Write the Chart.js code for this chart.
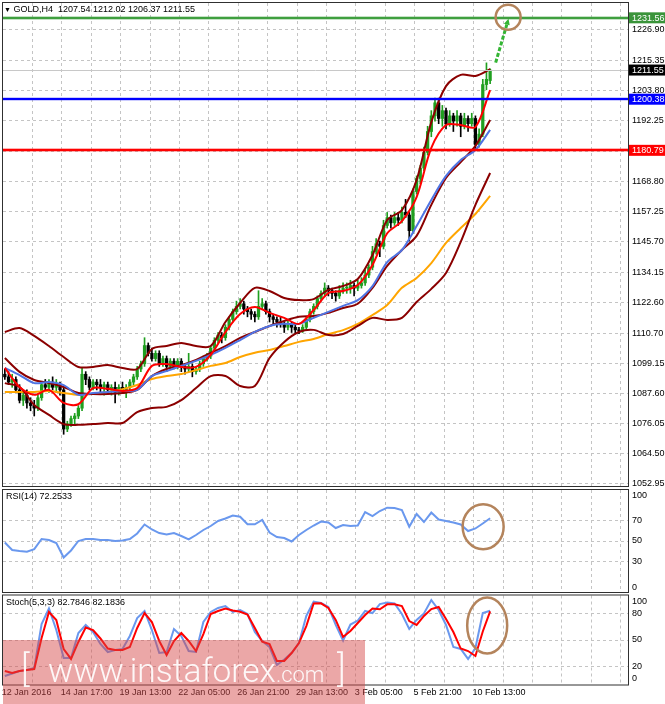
<!DOCTYPE html>
<html lang="en">
  <head>
    <meta charset="UTF-8" />
    <title>GOLD H4</title>
    <script src="https://cdn.jsdelivr.net/npm/chart.js"></script>
    <style>
      body { margin: 0; background: #fff; }
      #wrap { position: relative; width: 665px; height: 704px; overflow: hidden; font-family: "Liberation Sans", Arial, sans-serif; }
      canvas { position: absolute; left: 0; }
      .caption { position: absolute; font-size: 9px; line-height: 11px; color: #000; white-space: pre; }
      .mark { position: absolute; left: 3px; top: 640px; width: 362px; height: 64px; background: rgba(214, 72, 72, 0.48); }
      .mark span { position: absolute; color: rgba(255, 255, 255, 0.92); font-family: "Roboto Light", "Open Sans Light", "Lato Light", Roboto, sans-serif; font-weight: 300; line-height: 1; white-space: pre; }
    </style>
  </head>
  <body>
    <div id="wrap">
      <canvas id="main" width="665" height="489" style="top:0"></canvas>
      <canvas id="rsi" width="665" height="104" style="top:489px"></canvas>
      <canvas id="stoch" width="665" height="110" style="top:594px"></canvas>
      <div class="caption" style="left:4px;top:4px"><span style="font-size:7px">▼</span> GOLD,H4  1207.54 1212.02 1206.37 1211.55</div>
      <div class="caption" style="left:6px;top:491px">RSI(14) 72.2533</div>
      <div class="caption" style="left:6px;top:597px">Stoch(5,3,3) 82.7846 82.1836</div>
      <div class="mark">
        <span style="left:18px;top:11.4px;font-size:36px">[</span>
        <span style="left:45px;top:13.5px;font-size:33.5px">www.instaforex<span style="position:static;font-size:22px">.com</span></span>
        <span style="left:334px;top:11.4px;font-size:36px">]</span>
      </div>
    </div>

    <script>
      // H4 candles, 12 Jan - 11 Feb 2016
      const opens = [
        1095, 1094, 1092, 1093, 1089, 1085, 1087, 1084, 1083, 1082,
        1086, 1091, 1090, 1092, 1090, 1091, 1089, 1074, 1076, 1078,
        1079, 1082, 1095, 1093, 1090, 1092, 1091, 1090, 1091, 1089,
        1090, 1088, 1090, 1089, 1090, 1092, 1094, 1097, 1099, 1106,
        1103, 1101, 1103, 1099, 1101, 1098, 1100, 1098, 1100, 1098,
        1097, 1098, 1096, 1097, 1099, 1101, 1102, 1105, 1108, 1110,
        1109, 1113, 1116, 1119, 1121, 1122, 1120, 1119, 1118, 1117,
        1121, 1122, 1119, 1117, 1116, 1115, 1114, 1113, 1114, 1113,
        1112, 1111.5, 1113, 1116, 1119, 1121, 1124, 1126, 1128, 1127,
        1126, 1125, 1127, 1128, 1128, 1129, 1128, 1129, 1130, 1133,
        1136, 1142, 1145, 1144, 1152, 1155, 1153, 1155, 1154, 1157,
        1156, 1150, 1165, 1170, 1174, 1180, 1188, 1194, 1199, 1193,
        1196, 1191, 1194, 1192, 1194, 1190, 1193, 1191, 1193, 1183,
        1187, 1206, 1207.54,
      ];
      const highs = [
        1097, 1096, 1095, 1094, 1091, 1088, 1089, 1086, 1085, 1087,
        1092, 1093, 1093, 1094, 1093, 1092, 1090, 1077, 1079, 1080,
        1083, 1097.5, 1096, 1094, 1093, 1093, 1093, 1092, 1092, 1091,
        1092, 1091, 1092, 1091, 1093, 1095, 1098, 1100, 1109, 1107,
        1105, 1104, 1104, 1102, 1102, 1101, 1101, 1101, 1101, 1099,
        1103, 1099, 1098, 1100, 1102, 1103, 1106, 1109, 1111, 1111,
        1114, 1117, 1120, 1123, 1124, 1123, 1121, 1120, 1119, 1127,
        1124, 1123, 1120, 1118, 1117, 1117, 1115, 1116, 1115, 1114,
        1113, 1114, 1117, 1120, 1122, 1125, 1127, 1130, 1129, 1128,
        1127, 1129, 1130, 1130, 1131, 1130, 1131, 1132, 1135, 1137,
        1144, 1147, 1146, 1154, 1157, 1156, 1157, 1157, 1159, 1162,
        1157, 1166, 1171, 1175, 1182, 1190, 1196, 1200.8, 1200.8, 1198,
        1197, 1196, 1195, 1196, 1195, 1195, 1194, 1195, 1194, 1189,
        1208, 1214.3, 1212.02,
      ];
      const lows = [
        1093, 1091, 1090, 1088, 1084, 1083, 1082, 1081, 1079, 1081,
        1085, 1089, 1088, 1089, 1088, 1087, 1072, 1073, 1075, 1076,
        1078, 1081, 1091, 1089, 1089, 1089, 1088, 1087, 1088, 1087,
        1084, 1087, 1088, 1086, 1089, 1091, 1093, 1096, 1098, 1102,
        1100, 1100, 1098, 1098, 1096, 1097, 1097, 1097, 1096, 1095,
        1096, 1094, 1095, 1096, 1098, 1100, 1101, 1104, 1107, 1107,
        1108, 1112, 1115, 1118, 1120, 1118, 1117, 1116, 1115, 1116,
        1120, 1118, 1115, 1114, 1113, 1113, 1111, 1112, 1111, 1110.5,
        1110.5, 1111, 1112, 1115, 1118, 1120, 1123, 1125, 1125, 1124,
        1123, 1124, 1126, 1126, 1126, 1125, 1127, 1128, 1129, 1132,
        1135, 1141, 1140, 1143, 1151, 1151, 1152, 1152, 1153, 1155,
        1146, 1149, 1164, 1168, 1173, 1179, 1186, 1192, 1191, 1190,
        1189, 1190, 1188, 1190, 1186, 1189, 1188, 1190, 1181, 1182,
        1186, 1204, 1206.37,
      ];
      const closes = [
        1094, 1092, 1093, 1089, 1085, 1087, 1084, 1083, 1082, 1086,
        1091, 1090, 1092, 1090, 1091, 1089, 1074, 1076, 1078, 1079,
        1082, 1095, 1093, 1090, 1092, 1091, 1090, 1091, 1089, 1090,
        1088, 1090, 1089, 1090, 1092, 1094, 1097, 1099, 1106, 1103,
        1101, 1103, 1099, 1101, 1098, 1100, 1098, 1100, 1098, 1097,
        1098, 1096, 1097, 1099, 1101, 1102, 1105, 1108, 1110, 1109,
        1113, 1116, 1119, 1121, 1122, 1120, 1119, 1118, 1117, 1121,
        1122, 1119, 1117, 1116, 1115, 1114, 1113, 1114, 1113, 1112,
        1111.5, 1113, 1116, 1119, 1121, 1124, 1126, 1128, 1127, 1126,
        1125, 1127, 1128, 1128, 1129, 1128, 1129, 1130, 1133, 1136,
        1142, 1145, 1144, 1152, 1155, 1153, 1155, 1154, 1157, 1156,
        1150, 1165, 1170, 1174, 1180, 1188, 1194, 1199, 1193, 1196,
        1191, 1194, 1192, 1194, 1190, 1193, 1191, 1193, 1183, 1187,
        1206, 1208, 1211.55,
      ];

      // indicator lines, read every 4th bar (bars 0, 4, ... 132)
      const lineBars = Array.from({ length: 34 }, (_, k) => k * 4);
      const bbUpper = [
        1111.2, 1112.7, 1109.7, 1105.8, 1101.6, 1097.8, 1097.8, 1098.5, 1097.4, 1097.0,
        1104.7, 1105.8, 1107.0, 1105.8, 1105.8, 1115.0, 1122.3, 1128.1, 1126.9, 1124.2,
        1123.4, 1123.8, 1127.3, 1128.8, 1131.5, 1140.7, 1154.1, 1157.9, 1169.4, 1191.6,
        1205.4, 1209.7, 1209.3, 1211.9,
      ];
      const bbMiddle = [
        1101.2, 1095.9, 1092.8, 1091.6, 1090.1, 1087.8, 1087.4, 1087.4, 1087.8, 1089.0,
        1094.3, 1097.0, 1098.5, 1100.5, 1103.2, 1105.8, 1108.9, 1111.2, 1113.5, 1115.4,
        1117.0, 1117.3, 1118.5, 1120.4, 1122.0, 1128.1, 1136.5, 1142.6, 1148.0, 1159.9,
        1170.2, 1176.3, 1182.5, 1192.4,
      ];
      const bbLower = [
        1091.6, 1090.1, 1083.2, 1079.4, 1075.9, 1075.6, 1075.9, 1076.3, 1076.3, 1080.5,
        1082.1, 1082.5, 1085.1, 1089.7, 1094.3, 1094.3, 1090.5, 1090.5, 1101.2, 1107.4,
        1111.2, 1112.0, 1110.0, 1110.4, 1113.5, 1116.6, 1115.8, 1116.6, 1122.7, 1127.7,
        1133.8, 1145.7, 1159.9, 1172.1,
      ];
      const maFast = [
        1097.4, 1090.1, 1087.1, 1089.0, 1084.0, 1083.5, 1089.7, 1089.4, 1088.6, 1089.7,
        1098.2, 1098.9, 1097.8, 1097.8, 1102.4, 1111.2, 1118.1, 1120.8, 1118.5, 1116.6,
        1114.3, 1119.6, 1126.1, 1126.9, 1129.2, 1136.9, 1149.0, 1153.7, 1162.9, 1181.7,
        1190.5, 1190.5, 1189.7, 1203.9,
      ];
      const maMid = [
        1097.4, 1094.7, 1091.6, 1092.0, 1090.8, 1087.1, 1087.8, 1088.2, 1088.6, 1089.0,
        1094.3, 1096.2, 1098.2, 1100.1, 1102.4, 1105.1, 1108.1, 1111.2, 1113.5, 1114.3,
        1114.3, 1116.6, 1118.9, 1121.2, 1123.4, 1128.8, 1138.0, 1142.6, 1151.8, 1161.8,
        1171.0, 1177.1, 1180.9, 1188.6,
      ];
      const maSlow = [
        1088.2, 1088.2, 1088.2, 1088.6, 1087.8, 1087.1, 1087.4, 1088.2, 1089.3, 1090.9,
        1093.2, 1094.3, 1095.1, 1096.6, 1098.2, 1099.3, 1101.6, 1103.2, 1104.3, 1105.8,
        1107.4, 1108.5, 1110.4, 1111.9, 1114.3, 1117.7, 1121.5, 1128.1, 1131.9, 1137.6,
        1145.3, 1151.0, 1156.4, 1163.3,
      ];

      // oscillators, read every 2nd bar (bars 0, 2, ... 132)
      const oscBars = Array.from({ length: 67 }, (_, k) => k * 2);
      const rsi = [
        48.5, 41.2, 40.2, 39.5, 42, 52, 51, 48, 33.8, 40.7,
        50, 52, 52, 51, 51, 50, 50.5, 52, 57.4, 66.2,
        61.3, 57.8, 56.4, 57.8, 54.9, 51.5, 55.9, 60.8, 64.7, 69.6,
        72.1, 75, 73.8, 66.4, 66.4, 70.6, 58.3, 53.9, 52.9, 49.5,
        55.9, 60.8, 65.2, 69.1, 68.1, 62.7, 65.7, 64.7, 65.2, 78.4,
        74.5, 79.4, 82.7, 82.4, 80.4, 64, 76.5, 68.6, 77.9, 71.1,
        69.6, 68.1, 66.2, 59.8, 62.3, 67.2, 72.25,
      ];
      const stochK = [
        9.6, 12.4, 15.2, 16.3, 18.5, 68, 85.4, 61.2, 29.8, 29.8,
        57.9, 66.9, 59, 45.5, 36.5, 38.8, 39.9, 54.5, 74.7, 82.6,
        61.2, 35.4, 36.5, 62.4, 54.5, 37.6, 36.5, 70.2, 81.5, 86,
        88.2, 81.5, 83.7, 79.2, 59, 48.9, 42.1, 21.9, 28.1, 35.4,
        46.6, 77, 93, 91.6, 87.1, 66.9, 49.4, 67.4, 71.9, 82.6,
        80.3, 90.4, 92.1, 91, 79.2, 62.4, 72.5, 79.8, 94.9, 83.7,
        66.9, 42.1, 39.9, 28.7, 41, 80.3, 82.78,
      ];
      const stochD = [
        15.2, 12.9, 15.2, 16.3, 17.4, 52.2, 81.5, 72.5, 39.9, 28.7,
        47.8, 64, 61.2, 51.7, 40.4, 38.8, 38.8, 42.1, 63.5, 80.3,
        70.2, 48.9, 33.1, 48.9, 57.9, 48.9, 37.6, 56.7, 79.2, 82.6,
        85.4, 83.1, 81.8, 78.7, 63.5, 48.1, 45.5, 26.4, 26.4, 35.4,
        46.6, 65.7, 91, 91.2, 86, 72.5, 53.4, 60.1, 69.1, 78.1,
        85.4, 84.5, 90.1, 90.1, 88.2, 71.3, 66.9, 77, 84.8, 87.1,
        73.6, 59, 40.4, 37.6, 32, 59.6, 82.18,
      ];

      // axes
      const slotLabels = Array.from({ length: 170 }, (_, i) => i);
      const xTickBars = [0, 16, 32, 48, 64, 80, 96, 112, 128];
      const xTickText = [
        "12 Jan 2016", "14 Jan 17:00", "19 Jan 13:00", "22 Jan 05:00", "26 Jan 21:00",
        "29 Jan 13:00", "3 Feb 05:00", "5 Feb 21:00", "10 Feb 13:00",
      ];
      const priceTicks = [
        1052.95, 1064.5, 1076.05, 1087.6, 1099.15, 1110.7, 1122.6, 1134.15,
        1145.7, 1157.25, 1168.8, 1180.35, 1192.25, 1203.8, 1215.35, 1226.9,
      ];
      const rsiTicks = [0, 30, 50, 70, 100];
      const stochTicks = [0, 20, 50, 80, 100];

      // horizontal levels: target, last price, resistance, support
      const levelValues = [1231.56, 1211.55, 1200.38, 1180.79];

      // drawn marks, in bar index / value units
      const arrowFrom = [133.5, 1214.4];
      const arrowTo = [137.0, 1231.2];
      const mainRing = [136.9, 1231.8];
      const rsiRing = [130.1, 64];
      const stochRing = [131.2, 66.3];

      const GRID = "#c4c4c4";
      const RING = "#b4845c";
      const levelStyles = [
        { line: "#3f9f3f", halo: "rgba(63,159,63,0.3)", width: 2, tag: "#3a943a" },
        { line: "#c8c8c8", width: 1, tag: "#000000" },
        { line: "#0000ff", halo: "rgba(0,0,255,0.2)", width: 2, tag: "#0000ff" },
        { line: "#ff0000", halo: "rgba(255,0,0,0.3)", width: 2, tag: "#ff0000" },
      ];

      Chart.defaults.font.family = '"Liberation Sans", Arial, sans-serif';
      Chart.defaults.font.size = 9;
      Chart.defaults.color = "#000";

      const toPoints = (bars, vals) => bars.map((b, k) => ({ x: b, y: vals[k] }));

      function xAxis(showLabels) {
        return {
          type: "category",
          offset: true,
          grid: {
            offset: true,
            drawTicks: false,
            color: (c) => (c.index > 0 && c.index % 8 === 0 ? GRID : "transparent"),
          },
          border: { display: false, dash: [3, 3] },
          ticks: {
            display: showLabels,
            autoSkip: false,
            maxRotation: 0,
            align: "start",
            labelOffset: -3,
            padding: 3,
            callback: (v, i) => {
              const k = xTickBars.indexOf(i);
              return k < 0 ? "" : xTickText[k];
            },
          },
          afterFit: (s) => {
            s.height = showLabels ? 19.5 : 0;
            s.paddingLeft = 0;
            s.paddingRight = 0;
          },
        };
      }

      function yAxis(min, max, values, labelFor, gridFor) {
        return {
          position: "right",
          min: min,
          max: max,
          afterBuildTicks: (s) => {
            s.ticks = values.map((v) => ({ value: v }));
          },
          afterFit: (s) => {
            s.width = 37;
            s.paddingTop = 0;
            s.paddingBottom = 0;
          },
          grid: {
            drawTicks: false,
            color: (c) => (c.tick && gridFor(c.tick.value) ? GRID : "transparent"),
          },
          border: { display: false, dash: [3, 3] },
          ticks: { padding: 4, callback: labelFor },
        };
      }

      function options(padding, showX, y, extra) {
        return {
          responsive: false,
          animation: false,
          events: [],
          layout: { padding: padding },
          plugins: Object.assign({ legend: { display: false }, tooltip: { enabled: false } }, extra),
          scales: { x: xAxis(showX), y: y },
        };
      }

      function lineSet(label, bars, vals, color, width, order, tension) {
        return {
          type: "line",
          label: label,
          data: toPoints(bars, vals),
          borderColor: color,
          borderWidth: width,
          pointRadius: 0,
          tension: tension,
          order: order,
        };
      }

      function ring(ctx, px, py, rx, ry) {
        ctx.save();
        ctx.strokeStyle = RING;
        ctx.lineWidth = 2.5;
        ctx.beginPath();
        ctx.ellipse(px, py, rx, ry, 0, 0, Math.PI * 2);
        ctx.stroke();
        ctx.restore();
      }

      const frame = {
        id: "frame",
        afterDraw(chart) {
          const { ctx, chartArea: a } = chart;
          ctx.save();
          ctx.strokeStyle = "#303030";
          ctx.lineWidth = 1;
          ctx.strokeRect(a.left - 0.5, a.top - 0.5, a.right - a.left + 1, a.bottom - a.top + 1);
          ctx.restore();
        },
      };

      const edgeLabels = {
        id: "edgeLabels",
        afterDraw(chart, args, opts) {
          const { ctx, chartArea: a } = chart;
          ctx.save();
          ctx.font = '9px "Liberation Sans", Arial, sans-serif';
          ctx.fillStyle = "#000";
          ctx.textBaseline = "middle";
          ctx.fillText(opts.top, a.right + 4, a.top + opts.topShift);
          ctx.fillText(opts.bottom, a.right + 4, a.bottom - opts.bottomShift);
          ctx.restore();
          const c = opts.ring;
          ring(ctx, chart.scales.x.getPixelForValue(c[0]), chart.scales.y.getPixelForValue(c[1]), opts.rx, opts.ry);
        },
      };

      const mainMarks = {
        id: "mainMarks",
        afterDatasetsDraw(chart) {
          const { ctx, chartArea: a, scales } = chart;
          const x = scales.x, y = scales.y;
          ctx.save();
          ctx.beginPath();
          ctx.rect(a.left, a.top, a.right - a.left, a.bottom - a.top);
          ctx.clip();
          levelValues.forEach((v, i) => {
            const st = levelStyles[i];
            const py = Math.round(y.getPixelForValue(v)) + (st.width === 1 ? 0.5 : 0);
            if (st.halo) {
              ctx.strokeStyle = st.halo;
              ctx.lineWidth = st.width + 2;
              ctx.beginPath();
              ctx.moveTo(a.left, py);
              ctx.lineTo(a.right, py);
              ctx.stroke();
            }
            ctx.strokeStyle = st.line;
            ctx.lineWidth = st.width;
            ctx.beginPath();
            ctx.moveTo(a.left, py);
            ctx.lineTo(a.right, py);
            ctx.stroke();
          });

          // dashed target arrow
          const x0 = x.getPixelForValue(arrowFrom[0]), y0 = y.getPixelForValue(arrowFrom[1]);
          const x1 = x.getPixelForValue(arrowTo[0]), y1 = y.getPixelForValue(arrowTo[1]);
          const ang = Math.atan2(y1 - y0, x1 - x0);
          const hx = x1 - Math.cos(ang) * 6, hy = y1 - Math.sin(ang) * 6;
          ctx.strokeStyle = "#34b534";
          ctx.fillStyle = "#34b534";
          ctx.lineWidth = 3;
          ctx.setLineDash([4, 2]);
          ctx.beginPath();
          ctx.moveTo(x0, y0);
          ctx.lineTo(hx, hy);
          ctx.stroke();
          ctx.setLineDash([]);
          ctx.beginPath();
          ctx.moveTo(x1, y1);
          ctx.lineTo(hx + Math.cos(ang + Math.PI / 2) * 3, hy + Math.sin(ang + Math.PI / 2) * 3);
          ctx.lineTo(hx + Math.cos(ang - Math.PI / 2) * 3, hy + Math.sin(ang - Math.PI / 2) * 3);
          ctx.closePath();
          ctx.fill();
          ctx.restore();

          ring(ctx, x.getPixelForValue(mainRing[0]), y.getPixelForValue(mainRing[1]), 12.5, 12.5);
        },
        afterDraw(chart) {
          const { ctx, chartArea: a, scales } = chart;
          ctx.save();
          ctx.font = '9px "Liberation Sans", Arial, sans-serif';
          ctx.textBaseline = "middle";
          levelValues.forEach((v, i) => {
            const py = scales.y.getPixelForValue(v);
            ctx.fillStyle = levelStyles[i].tag;
            ctx.fillRect(a.right + 1, py - 5.5, chart.width - a.right - 1, 11);
            ctx.fillStyle = "#fff";
            ctx.fillText(v.toFixed(2), a.right + 4, py + 0.5);
          });
          ctx.restore();
        },
      };

      const candleColor = (c) => (closes[c.dataIndex] >= opens[c.dataIndex] ? "#1f9f1f" : "#000000");

      new Chart(document.getElementById("main"), {
        type: "bar",
        data: {
          labels: slotLabels,
          datasets: [
            lineSet("MA fast", lineBars, maFast, "#ff0000", 2, 1, 0.3),
            lineSet("MA mid", lineBars, maMid, "#4f74e3", 2, 2, 0.3),
            lineSet("BB upper", lineBars, bbUpper, "#8b0000", 2, 3, 0.3),
            lineSet("BB middle", lineBars, bbMiddle, "#8b0000", 2, 3, 0.3),
            lineSet("BB lower", lineBars, bbLower, "#8b0000", 2, 3, 0.3),
            lineSet("MA slow", lineBars, maSlow, "#ffa500", 2, 4, 0.3),
            {
              type: "bar",
              label: "range",
              data: lows.map((l, i) => [l, highs[i]]),
              backgroundColor: candleColor,
              barThickness: 1,
              grouped: false,
              order: 20,
            },
            {
              type: "bar",
              label: "body",
              data: opens.map((o, i) => [o, closes[i]]),
              backgroundColor: candleColor,
              barThickness: 2.6,
              minBarLength: 1,
              grouped: false,
              order: 19,
            },
          ],
        },
        options: options(
          { left: 3, top: 3, right: 0, bottom: 3 },
          false,
          yAxis(1052.18, 1237.24, priceTicks, (v) => v.toFixed(2), () => true)
        ),
        plugins: [mainMarks, frame],
      });

      new Chart(document.getElementById("rsi"), {
        type: "line",
        data: {
          labels: slotLabels,
          datasets: [lineSet("RSI(14)", oscBars, rsi, "#6a98ee", 2, 1, 0)],
        },
        options: options(
          { left: 3, top: 1, right: 0, bottom: 1 },
          false,
          yAxis(0, 100, rsiTicks, (v) => (v === 0 || v === 100 ? "" : String(v)), (v) => v > 0 && v < 100),
          { edgeLabels: { top: "100", bottom: "0", topShift: 6, bottomShift: 4, ring: rsiRing, rx: 20.5, ry: 22.5 } }
        ),
        plugins: [frame, edgeLabels],
      });

      new Chart(document.getElementById("stoch"), {
        type: "line",
        data: {
          labels: slotLabels,
          datasets: [
            lineSet("%D", oscBars, stochD, "#ff0000", 2, 1, 0),
            lineSet("%K", oscBars, stochK, "#6a98ee", 2, 2, 0),
          ],
        },
        options: options(
          { left: 3, top: 1.5, right: 0, bottom: 0 },
          true,
          yAxis(0, 100, stochTicks, (v) => (v === 0 || v === 100 ? "" : String(v)), (v) => v > 0 && v < 100),
          { edgeLabels: { top: "100", bottom: "0", topShift: 6, bottomShift: 5.5, ring: stochRing, rx: 20, ry: 28 } }
        ),
        plugins: [frame, edgeLabels],
      });
    </script>
  </body>
</html>
